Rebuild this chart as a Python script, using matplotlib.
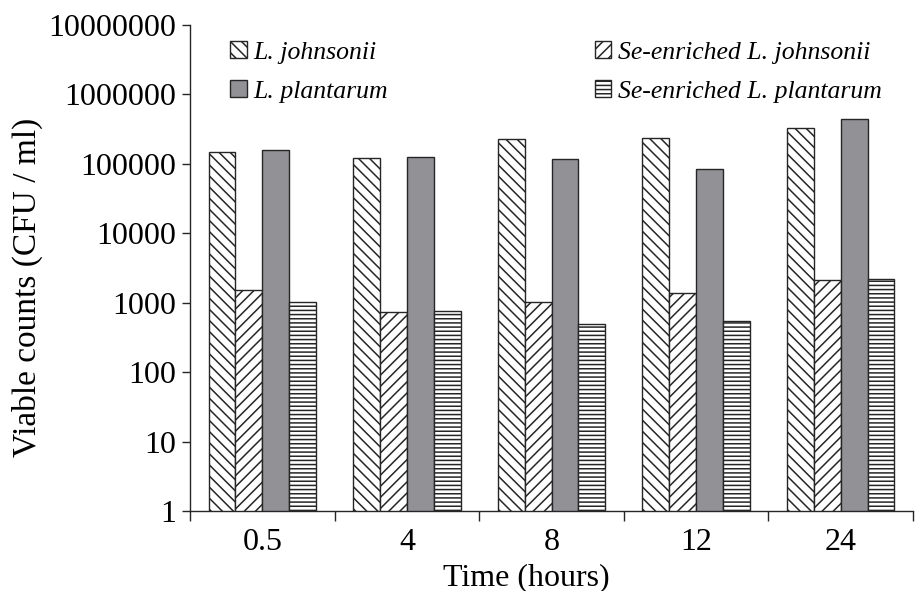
import matplotlib
matplotlib.use('Agg')
import matplotlib.pyplot as plt
import numpy as np

# time points (hours) and viable counts (CFU / ml)
times = ['0.5', '4', '8', '12', '24']
l_johnsonii = [150000, 123000, 227000, 235000, 327000]
se_l_johnsonii = [1520, 725, 1010, 1360, 2100]
l_plantarum = [156000, 127000, 117000, 84000, 446000]
se_l_plantarum = [1010, 750, 486, 548, 2170]

series = [
    ('L. johnsonii', l_johnsonii, 'white', '\\\\\\'),
    ('Se-enriched L. johnsonii', se_l_johnsonii, 'white', '///'),
    ('L. plantarum', l_plantarum, '#929296', None),
    ('Se-enriched L. plantarum', se_l_plantarum, 'white', '----'),
]

plt.rcParams['font.family'] = ['Liberation Serif', 'DejaVu Serif']
plt.rcParams['hatch.color'] = '#5a5a5a'
plt.rcParams['hatch.linewidth'] = 1.1

fig = plt.figure(figsize=(9.15, 5.91), dpi=100)
ax = fig.add_axes([190 / 915, 1 - 511 / 591, 723 / 915, 486 / 591])

x = np.arange(len(times))
w = 0.186
handles = {}
for i, (name, vals, color, hatch) in enumerate(series):
    b = ax.bar(x + (i - 1.5) * w, vals, w, color=color, edgecolor='#262626',
               linewidth=1.0, hatch=hatch, label=name, zorder=2)
    handles[name] = b

ax.set_yscale('log')
ax.set_ylim(1, 1e7)
ax.set_xlim(-0.5, len(times) - 0.5)
ax.set_yticks([10 ** k for k in range(8)])
ax.set_yticklabels([str(10 ** k) for k in range(8)])
ax.yaxis.set_minor_locator(matplotlib.ticker.NullLocator())

ax.set_xticks(x)
ax.set_xticklabels(times)
ax.set_xticks(np.arange(-0.5, len(times)), minor=True)
ax.tick_params(axis='x', which='major', length=0, pad=12, labelsize=23)
ax.tick_params(axis='x', which='minor', length=7, width=1, direction='out', color='#262626')
ax.tick_params(axis='y', length=6, width=1, direction='out', pad=4, labelsize=23, color='#262626')

for s in ['top', 'right']:
    ax.spines[s].set_visible(False)
for s in ['left', 'bottom']:
    ax.spines[s].set_color('#262626')
    ax.spines[s].set_linewidth(1.0)

ax.set_xlabel('Time (hours)', fontsize=23)
ax.xaxis.set_label_coords((526 - 190) / 723, -(563 - 511) / 486)
ax.set_ylabel('Viable counts (CFU / ml)', fontsize=24)
ax.yaxis.set_label_coords((43 - 190) / 723, (511 - 287) / 486)

order = ['L. johnsonii', 'L. plantarum', 'Se-enriched L. johnsonii', 'Se-enriched L. plantarum']
leg = ax.legend([handles[n] for n in order], order, ncol=2, loc='upper left',
                bbox_to_anchor=(230 / 915, 1 - 41 / 591), bbox_transform=fig.transFigure,
                frameon=False, borderpad=0, borderaxespad=0,
                prop={'style': 'italic', 'size': 18.5},
                handlelength=0.65, handleheight=0.65, handletextpad=0.25,
                columnspacing=8.05, labelspacing=0.65)

fig.savefig('out.png', dpi=100)
